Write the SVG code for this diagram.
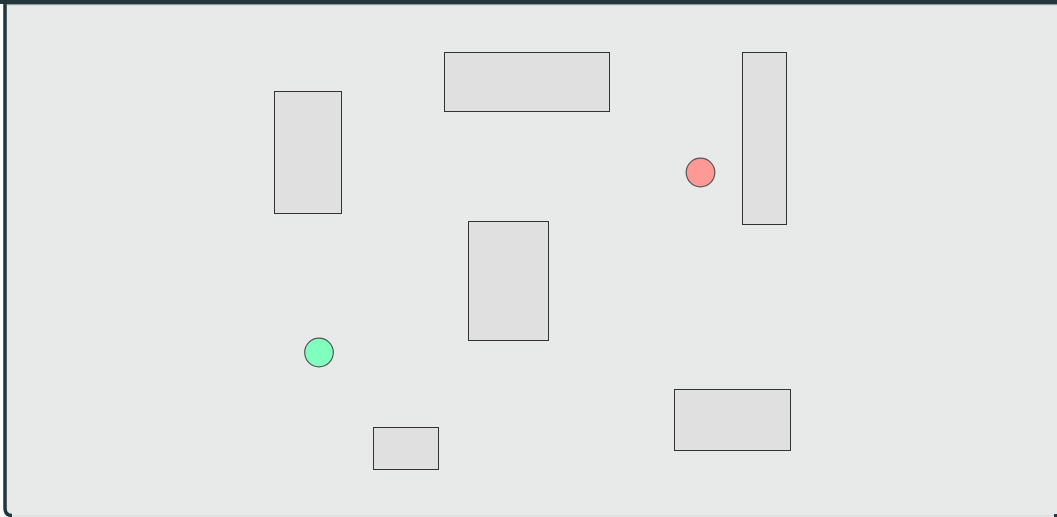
<svg xmlns="http://www.w3.org/2000/svg" width="1057" height="517" viewBox="0 0 1057 517">
<style>
.ob{fill:#e0e0e0;stroke:#333;stroke-width:1}
.pt{stroke:#555;stroke-width:1.2}
</style>
<rect x="0" y="0" width="1057" height="517" fill="#ffffff"/>
<rect x="5" y="-20" width="1070" height="535.5" rx="8" fill="#e8eae9"/>
<path d="M5,-5 V508 Q5,515.5 12,515.5" fill="none" stroke="#22363b" stroke-width="3.5"/>
<path d="M12,516 H1057" fill="none" stroke="#c9cdcd" stroke-width="1"/>
<rect x="1054" y="514" width="3" height="3" fill="#22363b"/>
<rect x="0" y="0" width="1057" height="4" fill="#22363b"/>
<rect x="7" y="4" width="1050" height="1.2" fill="#8f9c9c"/>
<g id="obstacles">
<rect id="obs1" class="ob" x="274.5" y="91.5" width="67" height="122"/>
<rect id="obs2" class="ob" x="444.5" y="52.5" width="165" height="59"/>
<rect id="obs3" class="ob" x="742.5" y="52.5" width="44" height="172"/>
<rect id="obs4" class="ob" x="468.5" y="221.5" width="80" height="119"/>
<rect id="obs5" class="ob" x="373.5" y="427.5" width="65" height="42"/>
<rect id="obs6" class="ob" x="674.5" y="389.5" width="116" height="61"/>
</g>
<g id="goal"><circle cx="700.5" cy="172.5" r="14.3" class="pt" fill="#ff9996"/></g>
<g id="start"><circle cx="319" cy="352.5" r="14.3" class="pt" fill="#80ffbf"/></g>
<g id="connectors"></g>
</svg>
